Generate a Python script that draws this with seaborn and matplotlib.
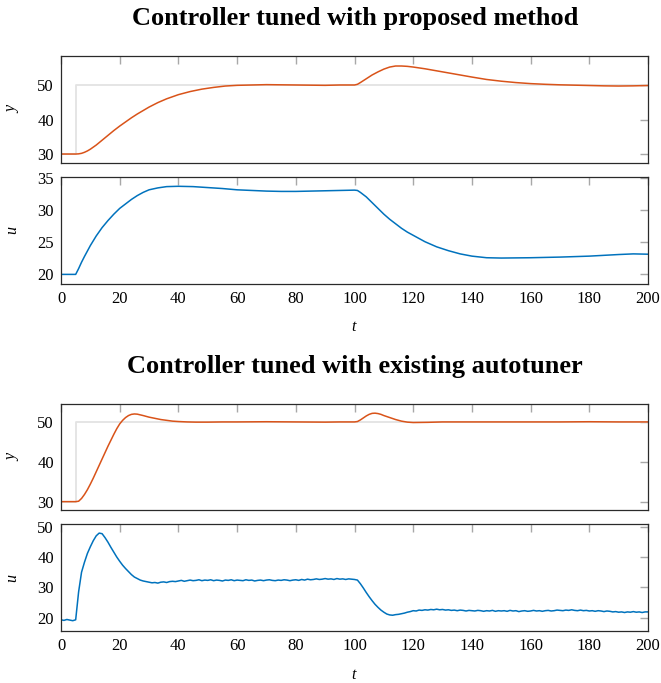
import matplotlib
matplotlib.use("Agg")
import matplotlib.pyplot as plt
import seaborn as sns

# ---- setpoint (shared by both experiments) ----
sp_t = [0, 5, 5, 200]
sp_r = [30, 30, 50, 50]

# ---- controller tuned with the proposed method ----
t_y1 = [0, 5, 6, 7, 8, 9, 10, 12, 14, 16, 18, 20, 22, 24, 26, 28, 30, 33, 36, 40,
        44, 48, 52, 56, 60, 65, 70, 75, 80, 85, 90, 95, 100, 101, 102, 104, 106,
        108, 110, 112, 114, 116, 118, 120, 124, 128, 132, 136, 140, 145, 150, 155,
        160, 165, 170, 175, 180, 185, 190, 195, 200]
y1 = [30, 30, 30.05, 30.2, 30.5, 30.9, 31.4, 32.6, 34.0, 35.4, 36.8, 38.1, 39.3,
      40.5, 41.6, 42.6, 43.6, 44.9, 46.0, 47.2, 48.1, 48.8, 49.3, 49.7, 49.9, 50.0,
      50.1, 50.05, 50.0, 49.95, 49.9, 50.0, 50.0, 50.2, 50.7, 51.8, 52.9, 53.8,
      54.6, 55.2, 55.5, 55.5, 55.4, 55.2, 54.7, 54.1, 53.5, 52.9, 52.3, 51.6, 51.1,
      50.7, 50.4, 50.2, 50.05, 49.95, 49.85, 49.75, 49.7, 49.75, 49.85]

t_u1 = [0, 5, 6, 7, 8, 10, 12, 14, 16, 18, 20, 22, 24, 26, 28, 30, 33, 36, 40, 45,
        50, 55, 60, 65, 70, 75, 80, 85, 90, 95, 100, 101, 102, 104, 106, 108, 110,
        112, 114, 116, 118, 120, 124, 128, 132, 136, 140, 145, 150, 160, 170, 180,
        190, 195, 200]
u1 = [19.9, 19.9, 20.8, 21.8, 22.7, 24.4, 25.9, 27.2, 28.3, 29.3, 30.2, 30.9, 31.6,
      32.2, 32.7, 33.1, 33.4, 33.6, 33.65, 33.6, 33.45, 33.3, 33.1, 33.0, 32.9,
      32.85, 32.85, 32.9, 32.95, 33.0, 33.05, 33.0, 32.7, 32.0, 31.1, 30.2, 29.3,
      28.5, 27.8, 27.1, 26.5, 26.0, 25.0, 24.2, 23.6, 23.1, 22.75, 22.5, 22.45,
      22.5, 22.6, 22.75, 23.0, 23.1, 23.05]

# ---- controller tuned with the existing autotuner ----
t_y2 = [0, 5, 6, 7, 8, 9, 10, 11, 12, 13, 14, 15, 16, 17, 18, 19, 20, 21, 22, 23,
        24, 25, 26, 28, 30, 32, 34, 36, 38, 40, 43, 46, 50, 55, 60, 70, 80, 90, 95,
        100, 101, 102, 103, 104, 105, 106, 107, 108, 109, 110, 112, 114, 116, 118,
        120, 125, 130, 140, 150, 160, 170, 180, 190, 200]
y2 = [30, 30, 30.1, 30.8, 31.8, 33.0, 34.4, 35.9, 37.5, 39.1, 40.7, 42.3, 43.9,
      45.4, 46.9, 48.3, 49.5, 50.4, 51.1, 51.6, 51.9, 52.0, 51.95, 51.6, 51.2,
      50.9, 50.6, 50.4, 50.2, 50.1, 50.0, 49.95, 49.95, 50.0, 50.0, 50.05, 50.0,
      49.95, 50.0, 50.0, 50.1, 50.5, 51.0, 51.5, 51.9, 52.15, 52.2, 52.1, 51.9,
      51.6, 51.1, 50.6, 50.2, 49.95, 49.85, 49.9, 50.0, 50.0, 50.0, 50.0, 50.0,
      50.05, 50.0, 50.0]

t_u2 = list(range(201))
u2 = [19.3, 19.1, 19.4, 19.2, 19.0, 19.3, 28.5, 35.0, 38.3, 41.2,
      43.4, 45.4, 47.0, 47.9, 47.7, 46.4, 44.9, 43.2, 41.6, 40.0,
      38.6, 37.3, 36.2, 35.2, 34.2, 33.4, 32.9, 32.4, 32.1, 31.9,
      31.7, 31.5, 31.6, 31.4, 31.7, 31.8, 31.6, 31.9, 32.0, 31.9,
      32.1, 32.3, 32.0, 32.2, 32.4, 32.2, 32.3, 32.5, 32.2, 32.4,
      32.3, 32.5, 32.2, 32.4, 32.3, 32.1, 32.4, 32.3, 32.5, 32.2,
      32.4, 32.3, 32.2, 32.5, 32.3, 32.4, 32.1, 32.3, 32.4, 32.2,
      32.4, 32.5, 32.3, 32.2, 32.4, 32.3, 32.5, 32.4, 32.2, 32.4,
      32.5, 32.3, 32.6, 32.4, 32.7, 32.5, 32.6, 32.8, 32.6, 32.7,
      32.9, 32.7, 32.8, 32.6, 32.9, 32.7, 32.8, 32.6, 32.8, 32.7,
      32.6, 32.4, 31.2, 29.8, 28.3, 26.9, 25.6, 24.4, 23.4, 22.5,
      21.8, 21.2, 20.9, 20.8, 21.0, 21.1, 21.3, 21.5, 21.8, 22.0,
      22.3, 22.2, 22.5, 22.4, 22.6, 22.5, 22.7, 22.6, 22.8, 22.6,
      22.7, 22.5, 22.6, 22.4, 22.5, 22.3, 22.5, 22.4, 22.2, 22.4,
      22.3, 22.2, 22.4, 22.3, 22.1, 22.3, 22.2, 22.4, 22.1, 22.3,
      22.2, 22.3, 22.1, 22.4, 22.2, 22.3, 22.0, 22.2, 22.3, 22.1,
      22.2, 22.4, 22.2, 22.3, 22.1, 22.3, 22.4, 22.2, 22.3, 22.5,
      22.4, 22.3, 22.5, 22.4, 22.6, 22.4, 22.3, 22.5, 22.3, 22.4,
      22.2, 22.3, 22.1, 22.3, 22.2, 22.0, 22.2, 22.1, 21.9, 22.0,
      21.8, 21.9, 21.7, 21.9, 21.8, 22.0, 21.8, 21.9, 21.7, 21.9,
      21.9]

titles = ["Controller tuned with proposed method",
          "Controller tuned with existing autotuner"]
x_ticks = list(range(0, 201, 20))
y_ticks = [30, 40, 50]
u1_ticks = [20, 25, 30, 35]
u2_ticks = [20, 30, 40, 50]

ORANGE = "#D95319"
BLUE = "#0072BD"
SETPOINT = "#e3e3e3"

sns.set_theme(style="white")
plt.rcParams["font.family"] = ["Liberation Serif", "DejaVu Serif"]
plt.rcParams["text.color"] = "black"

W, H = 661, 683
fig = plt.figure(figsize=(W / 100, H / 100), dpi=100)


def make_axes(top_px, bottom_px):
    left, right = 61, 648
    return fig.add_axes([left / W, 1 - bottom_px / H,
                         (right - left) / W, (bottom_px - top_px) / H])


def style_axes(ax, ylim, yticks, show_x):
    ax.set_xlim(0, 200)
    ax.set_ylim(*ylim)
    ax.set_xticks(x_ticks)
    ax.set_yticks(yticks)
    ax.tick_params(direction="in", top=True, right=True, length=6, width=1.0,
                   color="#a8a8a8", labelsize=12, labelcolor="black",
                   pad=5, labelbottom=show_x)
    for s in ax.spines.values():
        s.set_color("#2a2a2a")
        s.set_linewidth(0.9)
    ax.set_xlabel("")
    ax.set_ylabel("")


panels = [
    (56, 163, (27.4, 58.4), y_ticks, False, t_y1, y1, ORANGE, True, "y"),
    (177, 284, (18.4, 35.1), u1_ticks, True, t_u1, u1, BLUE, False, "u"),
    (404, 510, (27.9, 54.5), y_ticks, False, t_y2, y2, ORANGE, True, "y"),
    (524, 631, (15.6, 50.9), u2_ticks, True, t_u2, u2, BLUE, False, "u"),
]

for top, bot, ylim, yt, show_x, tt, vv, col, with_sp, lab in panels:
    ax = make_axes(top, bot)
    if with_sp:
        sns.lineplot(x=sp_t, y=sp_r, ax=ax, color=SETPOINT, linewidth=1.3,
                     sort=False, estimator=None)
    sns.lineplot(x=tt, y=vv, ax=ax, color=col, linewidth=1.1,
                 sort=False, estimator=None)
    style_axes(ax, ylim, yt, show_x)
    fig.text(12 / W, 1 - ((top + bot) / 2) / H, lab, style="italic",
             fontsize=11.5, rotation=90, ha="center", va="center")

fig.text(355 / W, 1 - 19 / H, titles[0], fontsize=19, fontweight="bold",
         ha="center", va="center")
fig.text(355 / W, 1 - 366 / H, titles[1], fontsize=19, fontweight="bold",
         ha="center", va="center")
fig.text(354 / W, 1 - 327 / H, "t", style="italic", fontsize=11.5,
         ha="center", va="center")
fig.text(354 / W, 1 - 675 / H, "t", style="italic", fontsize=11.5,
         ha="center", va="center")

fig.savefig("out.png", dpi=100)
